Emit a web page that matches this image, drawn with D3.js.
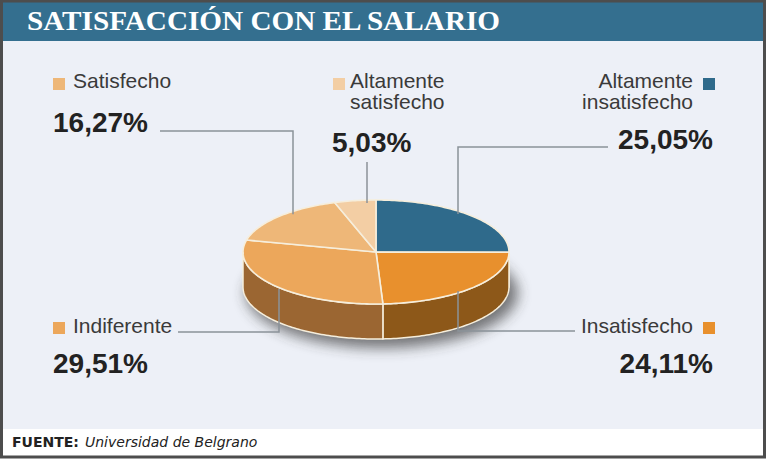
<!DOCTYPE html>
<html>
<head>
<meta charset="utf-8">
<script src="https://cdn.jsdelivr.net/npm/d3@7"></script>
<style>
  html, body { margin: 0; padding: 0; background: #ffffff; }
  svg { display: block; }
</style>
</head>
<body>
<div id="chart"></div>
<script>
// Chart data
const title = "SATISFACCIÓN CON EL SALARIO";
const categories = ["Altamente insatisfecho", "Insatisfecho", "Indiferente", "Satisfecho", "Altamente satisfecho"];
const values = [25.05, 24.11, 29.51, 16.27, 5.03];
const valueLabels = ["25,05%", "24,11%", "29,51%", "16,27%", "5,03%"];
const topColors = ["#2f6a8b", "#e8902d", "#eca75b", "#eeb778", "#f3cea4"];
const sideColors = ["#1f4a62", "#8d5819", "#9b6632", "#a37243", "#b3875a"];
const sourceLabel = "FUENTE:";
const sourceText = "Universidad de Belgrano";

// Label layout (one entry per category)
const labelLayout = [
  {anchor: "end",   x: 693, y: 88,  sq: [703, 78],  px: 713, py: 149, leader: [[608, 147], [458, 147]], to: "top"},
  {anchor: "end",   x: 693, y: 333, sq: [703, 322], px: 713, py: 373, leader: [[575, 331], [458, 331], [458, 291]]},
  {anchor: "start", x: 73,  y: 333, sq: [53, 322],  px: 53,  py: 373, leader: [[178, 332], [279, 332], [279, 289]]},
  {anchor: "start", x: 73,  y: 88,  sq: [53, 78],   px: 53,  py: 132, leader: [[160, 131], [293, 131]], to: "top"},
  {anchor: "start", x: 350, y: 88,  sq: [333, 78],  px: 332, py: 152, leader: [[367, 162]], to: "top"}
];

const W = 768, H = 461;
const cx = 376, cy = 252, rx = 133, ry = 52, depth = 35;

const svg = d3.select("#chart").append("svg")
    .attr("width", W)
    .attr("height", H)
    .style("font-family", "Arial, 'Liberation Sans', sans-serif");

const defs = svg.append("defs");
defs.append("filter").attr("id", "blur")
    .attr("x", "-30%").attr("y", "-50%").attr("width", "160%").attr("height", "200%")
  .append("feGaussianBlur").attr("stdDeviation", 7);

// frame + backgrounds
svg.append("rect").attr("x", 0).attr("y", 0).attr("width", W).attr("height", H).attr("fill", "#ffffff");
svg.append("rect").attr("x", 2).attr("y", 40).attr("width", 763).attr("height", 389).attr("fill", "#edf0f7");
svg.append("rect").attr("x", 2).attr("y", 1).attr("width", 763).attr("height", 40).attr("fill", "#346f8f");
svg.append("rect").attr("x", 1.5).attr("y", 1).attr("width", 763).attr("height", 456)
    .attr("fill", "none").attr("stroke", "#4d4d4d").attr("stroke-width", 3);

svg.append("text")
    .attr("x", 27).attr("y", 30)
    .attr("fill", "#ffffff")
    .attr("font-family", "'Liberation Serif', 'Times New Roman', serif")
    .attr("font-weight", "bold")
    .attr("font-size", 28)
    .attr("textLength", 473)
    .attr("lengthAdjust", "spacingAndGlyphs")
    .text(title);

// pie geometry
const pie = d3.pie().sort(null).value(d => d).startAngle(0).endAngle(2 * Math.PI);
const arcs = pie(values);
const xS = d3.scaleLinear().domain([-1, 1]).range([cx - rx, cx + rx]);
const yS = d3.scaleLinear().domain([-1, 1]).range([cy - ry, cy + ry]);
const pt = (a, dy = 0) => [xS(Math.sin(a)), yS(-Math.cos(a)) + dy];
const arcPts = (a0, a1, dy = 0) => {
  const n = Math.max(2, Math.ceil((a1 - a0) / 0.02));
  return d3.range(n + 1).map(i => pt(a0 + (a1 - a0) * i / n, dy));
};
const line = d3.line();

const g = svg.append("g");

// shadow
g.append("ellipse")
    .attr("cx", cx + 6).attr("cy", cy + depth + 6)
    .attr("rx", rx + 3).attr("ry", ry + 3)
    .attr("fill", "#333333").attr("opacity", 0.65)
    .attr("filter", "url(#blur)");

// sides (front half only)
arcs.forEach((d, i) => {
  const a0 = Math.max(d.startAngle, Math.PI / 2);
  const a1 = Math.min(d.endAngle, 3 * Math.PI / 2);
  if (a0 >= a1) return;
  const pts = arcPts(a0, a1).concat(arcPts(a0, a1, depth).reverse());
  g.append("path")
      .attr("d", line(pts) + "Z")
      .attr("fill", sideColors[i])
      .attr("stroke", "#f6eedc").attr("stroke-width", 1.5)
      .attr("stroke-linejoin", "round");
});

// tops
arcs.forEach((d, i) => {
  const pts = [[cx, cy]].concat(arcPts(d.startAngle, d.endAngle));
  g.append("path")
      .attr("d", line(pts) + "Z")
      .attr("fill", topColors[i])
      .attr("stroke", "#f6eedc").attr("stroke-width", 1.6)
      .attr("stroke-linejoin", "round");
});

// leaders
const edgeTop = x => cy - ry * Math.sqrt(Math.max(0, 1 - Math.pow((x - cx) / rx, 2))) + 3;
labelLayout.forEach(L => {
  let pts = L.leader.slice();
  if (L.to === "top") {
    const last = pts[pts.length - 1];
    pts.push([last[0], edgeTop(last[0])]);
  }
  svg.append("path")
      .attr("d", line(pts))
      .attr("fill", "none")
      .attr("stroke", "#8b9299")
      .attr("stroke-width", 1.5);
});

// labels
categories.forEach((name, i) => {
  const L = labelLayout[i];
  const words = name.split(" ");
  svg.append("rect")
      .attr("x", L.sq[0]).attr("y", L.sq[1])
      .attr("width", 12).attr("height", 12)
      .attr("fill", topColors[i]);
  const t = svg.append("text")
      .attr("x", L.x).attr("y", L.y)
      .attr("text-anchor", L.anchor)
      .attr("font-size", 21)
      .attr("fill", "#3a3a3a");
  words.forEach((w, j) => {
    t.append("tspan").attr("x", L.x).attr("dy", j === 0 ? 0 : 21).text(w);
  });
  svg.append("text")
      .attr("x", L.px).attr("y", L.py)
      .attr("text-anchor", L.anchor)
      .attr("font-size", 28)
      .attr("font-weight", "bold")
      .attr("fill", "#222222")
      .text(valueLabels[i]);
});

// source footer
const f = svg.append("text")
    .attr("x", 12).attr("y", 447)
    .attr("font-family", "'DejaVu Sans', Verdana, sans-serif")
    .attr("font-size", 14)
    .attr("fill", "#222222");
f.append("tspan").attr("font-weight", "bold").text(sourceLabel);
f.append("tspan").attr("x", 85).attr("font-style", "italic").text(sourceText);
</script>
</body>
</html>
